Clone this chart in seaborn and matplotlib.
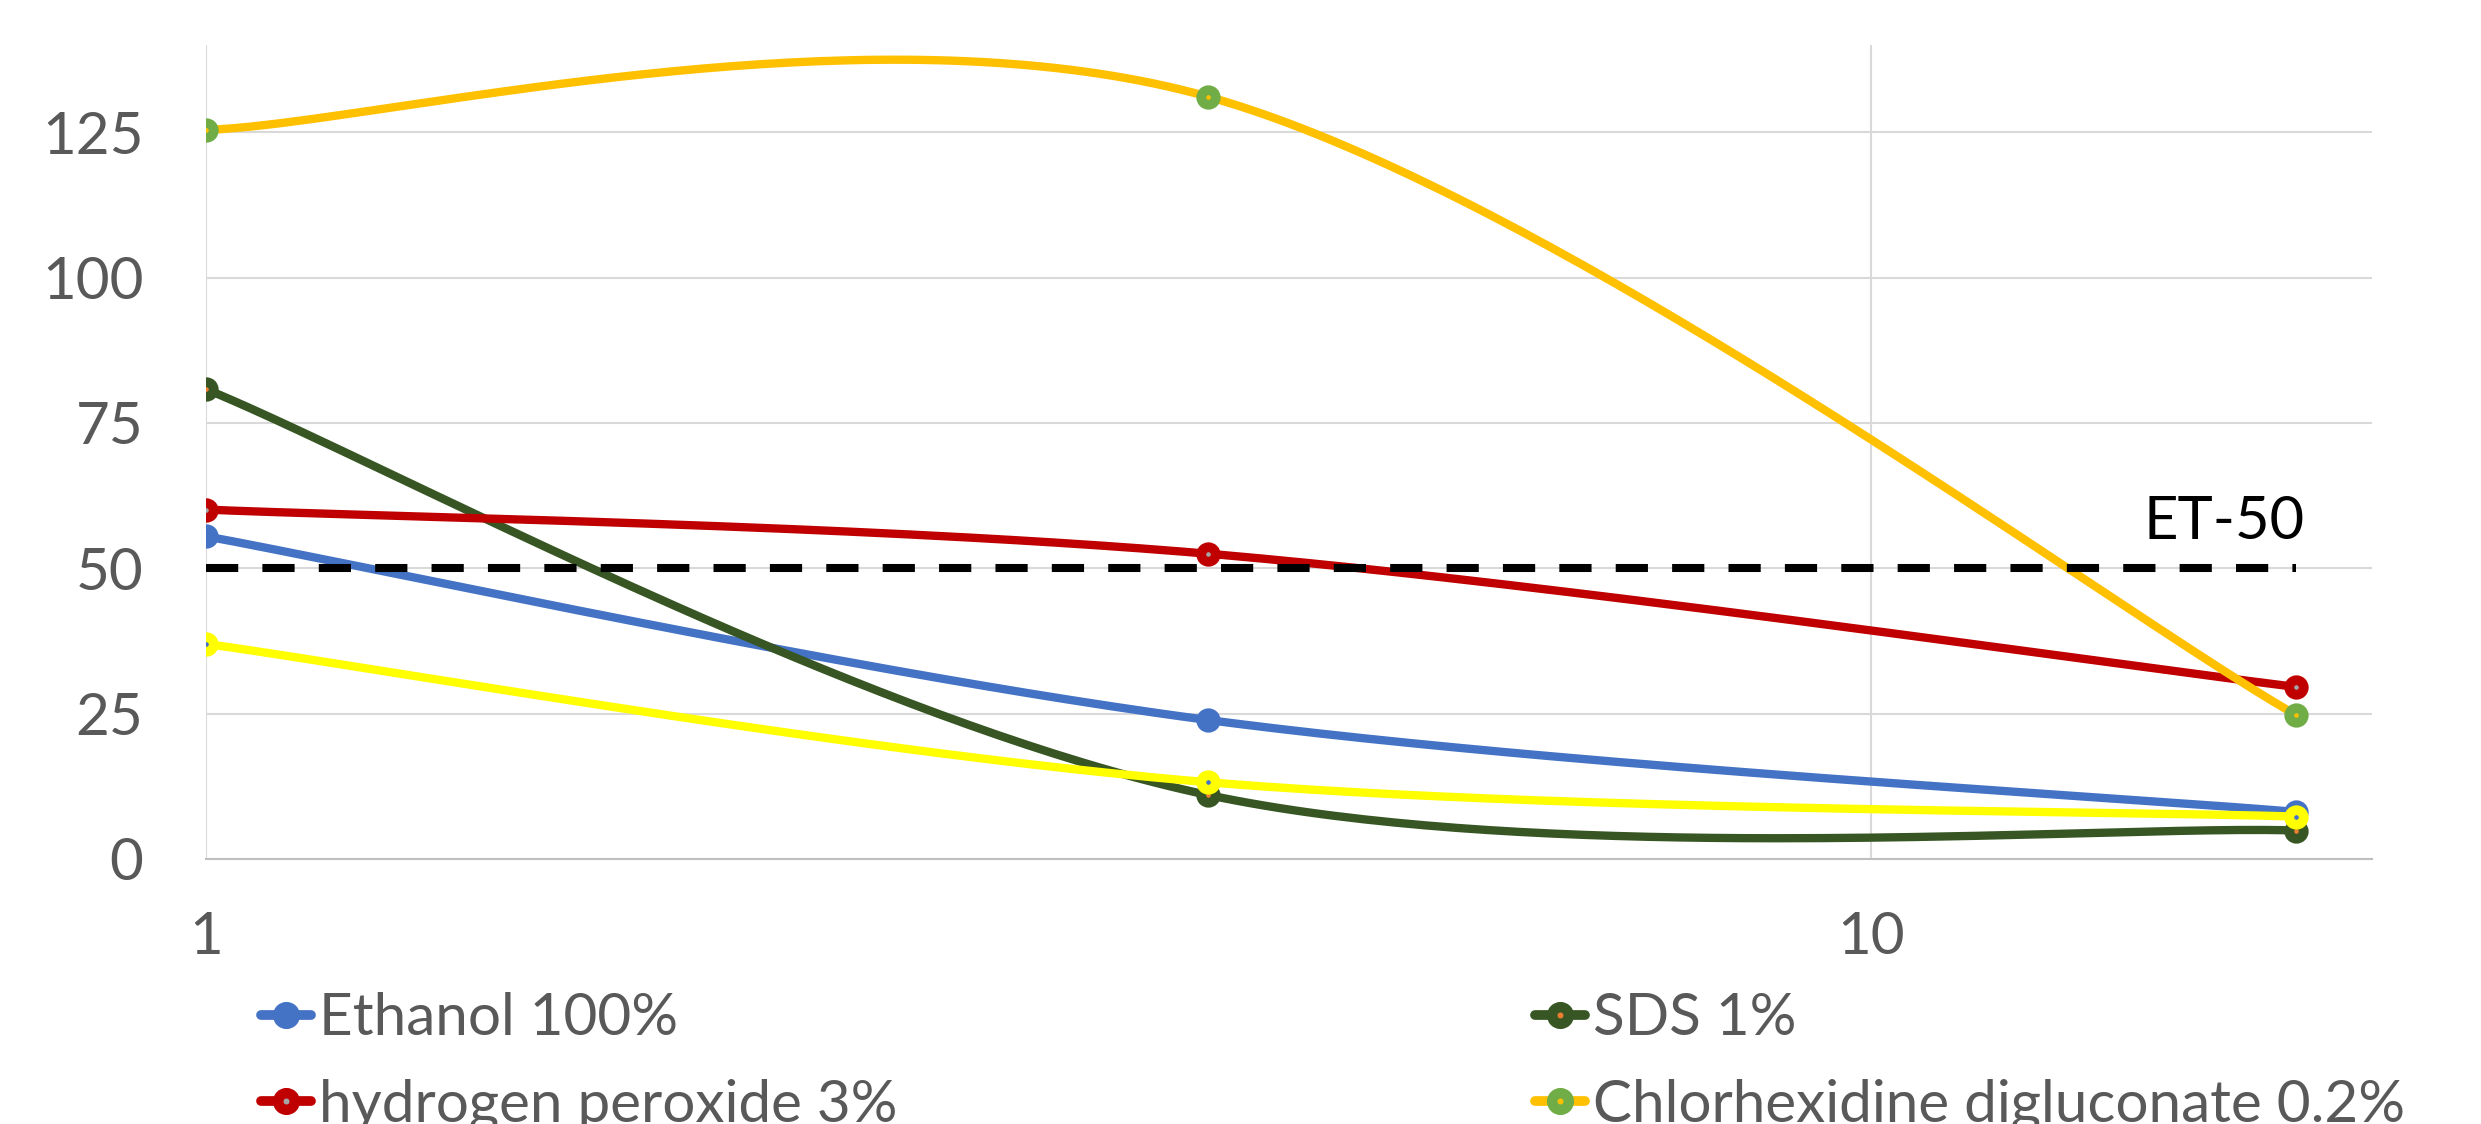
import numpy as np
import pandas as pd
import matplotlib
matplotlib.use('Agg')
import matplotlib.pyplot as plt
from matplotlib.lines import Line2D
from matplotlib.ticker import FixedLocator, NullLocator
import seaborn as sns

# data
time_points = [1, 4, 18]
ethanol = [55.5, 23.9, 8.1]
sds = [80.8, 11.0, 4.9]
peroxide = [60.1, 52.5, 29.6]
chlorhexidine = [125.4, 131.1, 24.8]
yellow_series = [37.0, 13.2, 7.3]
et50_x = [1, 18]
et50_y = [50, 50]
y_ticks = [0, 25, 50, 75, 100, 125]
x_ticks = [1, 10]

# name, values, line colour, marker ring, marker centre
series = [
    ('Ethanol 100%', ethanol, '#4472C4', '#4472C4', '#4472C4'),
    ('hydrogen peroxide 3%', peroxide, '#C00000', '#C00000', '#A5A5A5'),
    ('SDS 1%', sds, '#375623', '#375623', '#ED7D31'),
    ('Chlorhexidine digluconate 0.2%', chlorhexidine, '#FFC000', '#70AD47', '#FFC000'),
    ('_yellow', yellow_series, '#FFFF00', '#FFFF00', '#4472C4'),
]
LW = 6.0
MS = 10.5
MEW = 7.0


def smooth(xs, ys, n=80):
    # Excel style smoothed line (Catmull-Rom bezier) in log-x space
    pts = np.column_stack([np.log10(xs), np.asarray(ys, float)])
    out = [pts[0]]
    t = np.linspace(0, 1, n)[1:, None]
    for i in range(len(pts) - 1):
        p0 = pts[max(i - 1, 0)]
        p1 = pts[i]
        p2 = pts[i + 1]
        p3 = pts[min(i + 2, len(pts) - 1)]
        c1 = p1 + (p2 - p0) / 6
        c2 = p2 - (p3 - p1) / 6
        seg = (1 - t) ** 3 * p1 + 3 * (1 - t) ** 2 * t * c1 + 3 * (1 - t) * t ** 2 * c2 + t ** 3 * p2
        out.extend(seg)
    out = np.array(out)
    return 10 ** out[:, 0], out[:, 1]


sns.set_theme(style='white')
plt.rcParams['font.family'] = ['Lato', 'DejaVu Sans']

fig = plt.figure(figsize=(24.81, 11.24), dpi=100)
ax = fig.add_axes([206 / 2481, 1 - 859 / 1124, (2372 - 206) / 2481, (859 - 45) / 1124])

order = {'Ethanol 100%': 2, 'hydrogen peroxide 3%': 3, 'SDS 1%': 2.5,
         'Chlorhexidine digluconate 0.2%': 4, '_yellow': 5}
handles = {}
for name, vals, lc, ring, centre in series:
    sx, sy = smooth(time_points, vals)
    curve = pd.DataFrame({'x': sx, 'y': sy})
    sns.lineplot(data=curve, x='x', y='y', sort=False, estimator=None, color=lc, ax=ax)
    ax.lines[-1].set_linewidth(LW)
    ax.lines[-1].set_zorder(order[name])
    ax.plot(time_points, vals, linestyle='none', marker='o', markersize=MS,
            markeredgewidth=MEW, markeredgecolor=ring, markerfacecolor=centre,
            zorder=order[name] + 0.1)
    handles[name] = Line2D([], [], color=lc, linewidth=LW + 1, marker='o', markersize=MS + 1.5,
                           markeredgewidth=MEW + 0.5, markeredgecolor=ring, markerfacecolor=centre,
                           solid_capstyle='round')

sns.lineplot(x=et50_x, y=et50_y, color='black', ax=ax)
ax.lines[-1].set_linewidth(5.8)
ax.lines[-1].set_zorder(6)
ax.lines[-1].set_dashes([4, 3])
ax.text(16.3, 58, 'ET-50', fontsize=43, color='black', ha='center', va='center')

ax.set_xscale('log')
ax.set_xlim(1, 20)
ax.set_ylim(0, 140)
ax.xaxis.set_major_locator(FixedLocator(x_ticks))
ax.xaxis.set_minor_locator(NullLocator())
ax.set_xticklabels([str(v) for v in x_ticks])
ax.set_yticks(y_ticks)
ax.set_xlabel('')
ax.set_ylabel('')
ax.grid(True, color='#D9D9D9', linewidth=1.5)
ax.set_axisbelow(True)
for side in ['left', 'top', 'right']:
    ax.spines[side].set_visible(False)
ax.spines['bottom'].set_color('#BFBFBF')
ax.spines['bottom'].set_linewidth(1.5)
ax.tick_params(axis='x', length=14.4, width=1.5, color='#D9D9D9', pad=23,
               labelsize=42, labelcolor='#595959', direction='out')
ax.tick_params(axis='y', length=0, pad=45, labelsize=42, labelcolor='#595959')

leg_kw = dict(frameon=False, fontsize=42, handlelength=0.85, handletextpad=0.15,
              labelspacing=0.57, borderpad=0, borderaxespad=0, loc='upper left',
              labelcolor='#595959', bbox_transform=fig.transFigure)
leg1 = fig.legend([handles['Ethanol 100%'], handles['hydrogen peroxide 3%']],
                  ['Ethanol 100%', 'hydrogen peroxide 3%'],
                  bbox_to_anchor=(261 / 2481, 0.1175), **leg_kw)
leg2 = fig.legend([handles['SDS 1%'], handles['Chlorhexidine digluconate 0.2%']],
                  ['SDS 1%', 'Chlorhexidine digluconate 0.2%'],
                  bbox_to_anchor=(1535 / 2481, 0.1175), **leg_kw)

fig.savefig('out.png', dpi=100)
